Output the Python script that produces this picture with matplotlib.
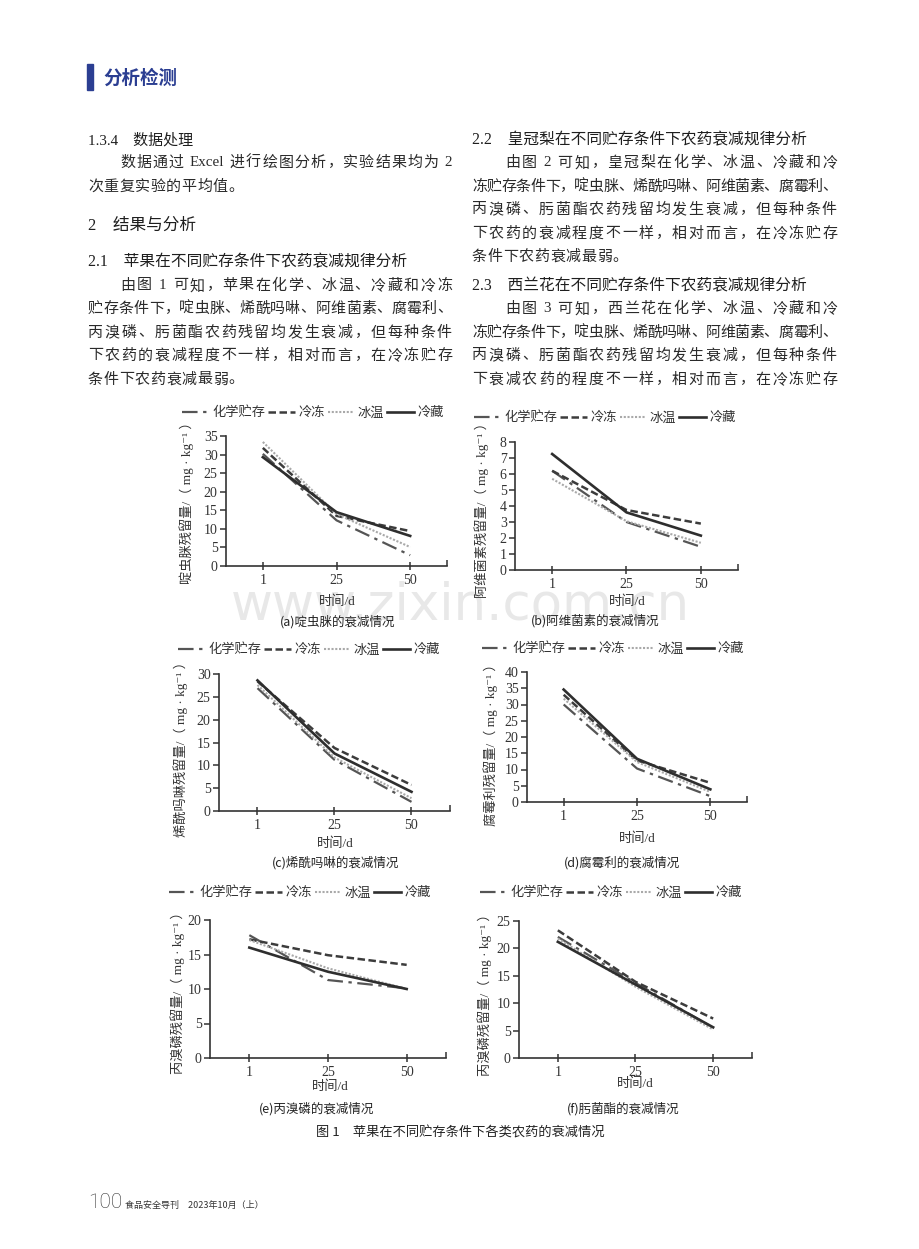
import re
import matplotlib
matplotlib.use("Agg")
import matplotlib.pyplot as plt
from matplotlib.patches import Rectangle
from matplotlib.lines import Line2D

# fonts: latin in a Times-like face, CJK falls back to Noto
CJK = ['Noto Sans CJK SC', 'DejaVu Sans']
MIX = ['Liberation Serif', 'Noto Sans CJK SC', 'DejaVu Sans']
plt.rcParams['font.family'] = MIX

# data (mg/kg), order: 化学贮存, 冷冻, 冰温, 冷藏
days = ['1', '25', '50']
storage = ['化学贮存', '冷冻', '冰温', '冷藏']

acetamiprid = [[30.2, 12.3, 2.9], [31.8, 13.5, 9.4], [33.4, 14.0, 5.1], [29.3, 14.5, 8.1]]
abamectin = [[6.2, 3.0, 1.45], [6.2, 3.75, 2.9], [5.7, 3.05, 1.7], [7.25, 3.6, 2.15]]
dimethomorph = [[26.9, 11.2, 2.0], [28.4, 13.8, 5.7], [27.6, 11.7, 2.8], [28.6, 12.6, 4.2]]
procymidone = [[30.0, 10.3, 1.8], [33.0, 12.8, 5.9], [31.8, 12.3, 3.1], [34.6, 13.3, 3.9]]
profenofos = [[17.8, 11.3, 10.1], [17.2, 14.9, 13.5], [17.1, 13.0, 10.0], [16.0, 12.5, 10.0]]
trifloxystrobin = [[22.1, 13.7, 5.5], [23.3, 13.9, 7.2], [21.8, 13.0, 5.2], [21.2, 13.4, 5.6]]

ylabels = ['啶虫脒', '阿维菌素', '烯酰吗啉', '腐霉利', '丙溴磷', '丙溴磷']
captions = ['(a)啶虫脒的衰减情况', '(b)阿维菌素的衰减情况', '(c)烯酰吗啉的衰减情况',
            '(d)腐霉利的衰减情况', '(e)丙溴磷的衰减情况', '(f)肟菌酯的衰减情况']
ymaxes = [35, 8, 30, 40, 20, 25]
ysteps = [5, 1, 5, 5, 5, 5]
panels = [acetamiprid, abamectin, dimethomorph, procymidone, profenofos, trifloxystrobin]

styles = [
    dict(color='#555555', ls=(0, (7, 2.5, 1.5, 2.5)), lw=1.6),
    dict(color='#3c3c3c', ls=(0, (3, 1.4)), lw=1.8),
    dict(color='#a9a9a9', ls=(0, (1, 0.8)), lw=1.5),
    dict(color='#2e2e2e', ls='-', lw=1.9),
]

W, H = 920, 1249
fig = plt.figure(figsize=(9.2, 12.49), dpi=100)
renderer = fig.canvas.get_renderer()


def fx(x):
    return x / W


def fy(y):
    return 1 - y / H


def txt(x, y, s, **kw):
    kw.setdefault('va', 'center')
    kw.setdefault('color', '#2a2a2a')
    return fig.text(fx(x), fy(y), s, **kw)


def justify(x0, x1, y, s, fs, fill=True):
    # lay a line out cell by cell, stretching gaps to fill x0..x1
    em = fs * 100 / 72
    tokens = re.findall(r'[A-Za-z0-9.]+| |\S', s)
    items = []
    for tok in tokens:
        if tok == ' ':
            items.append((None, em * 0.25))
        elif re.match(r'[A-Za-z0-9.]', tok):
            t = txt(0, y, tok, fontsize=fs)
            items.append((t, t.get_window_extent(renderer).width))
        else:
            items.append((txt(0, y, tok, fontsize=fs), em))
    total = sum(w for _, w in items)
    gap = ((x1 - x0) - total) / (len(items) - 1) if fill else 0.6
    x = x0
    for t, w in items:
        if t is not None:
            t.set_x(fx(x))
        x += w + gap


# pixel layout of each panel: (left, top, right, bottom), legend centre, ylabel, xlabel, caption
boxes = [(226, 436, 447, 566), (515, 442, 738, 570), (219, 674, 450, 811),
         (527, 672, 747, 802), (210, 920, 446, 1058), (519, 921, 752, 1058)]
legend_pos = [(313, 413), (605, 418), (309, 650), (613, 649), (300, 893), (611, 893)]
ylabel_pos = [(187, 500), (482, 507), (181, 746), (491, 742), (178, 990), (485, 992)]
xlabel_pos = [(337, 602), (627, 602), (335, 844), (637, 839), (330, 1087), (635, 1084)]
caption_pos = [(338, 622), (595, 621), (336, 863), (622, 863), (317, 1109), (623, 1109)]

# watermark behind everything
fig.text(fx(460), fy(605), 'www.zixin.com.cn', fontsize=37, color='#e8e8e8',
         family='DejaVu Sans', ha='center', va='center', zorder=-5)

for i, data in enumerate(panels):
    l, t, r, b = boxes[i]
    ax = fig.add_axes([fx(l), fy(b), (r - l) / W, (b - t) / H])
    ax.set_facecolor('none')
    xs = range(len(days))
    for j, name in enumerate(storage):
        ax.plot(xs, data[j], label=name, **styles[j])
    ax.set_xlim(-0.5, 2.5)
    ax.set_ylim(0, ymaxes[i])
    ax.set_xticks(list(xs))
    ax.set_xticklabels(days)
    ax.set_xticks([2.5], minor=True)
    ax.set_yticks(range(0, ymaxes[i] + 1, ysteps[i]))
    for s in ['top', 'right']:
        ax.spines[s].set_visible(False)
    for s in ['left', 'bottom']:
        ax.spines[s].set_color('#333333')
        ax.spines[s].set_linewidth(1.2)
    ax.tick_params(axis='x', which='major', direction='inout', length=6, width=1.1,
                   pad=3, labelsize=10, colors='#333333')
    ax.tick_params(axis='x', which='minor', direction='in', length=4, width=1.1, colors='#333333')
    ax.tick_params(axis='y', direction='out', length=4, width=1.1, pad=2,
                   labelsize=10, colors='#333333')

    handles = [Line2D([], [], **styles[j]) for j in range(4)]
    lx, ly = legend_pos[i]
    ax.legend(handles, storage, loc='center', bbox_to_anchor=(fx(lx), fy(ly)),
              bbox_transform=fig.transFigure, ncol=4, frameon=False,
              handlelength=2.0, handletextpad=0.25, columnspacing=0.25,
              prop={'family': MIX, 'size': 9.5}, labelcolor='#333333')

    yx, yy = ylabel_pos[i]
    txt(yx, yy, ylabels[i] + '残留量/（ mg · kg⁻¹ ）', rotation=90, ha='center',
        fontsize=9.5, color='#333333')
    xx, xy = xlabel_pos[i]
    txt(xx, xy, '时间/d', ha='center', fontsize=9.5, color='#333333')
    cx, cy = caption_pos[i]
    txt(cx, cy, captions[i], ha='center', fontsize=9, family=CJK, color='#222222')

txt(460, 1133, '图 1　苹果在不同贮存条件下各类农药的衰减情况', ha='center',
    fontsize=9.5, family=CJK, color='#222222')

# header
fig.add_artist(Rectangle((fx(87), fy(90)), 6 / W, 26 / H, color='#2b3e92',
                         transform=fig.transFigure))
txt(103, 78, '分析检测', fontsize=13.3, family=CJK, color='#2b3e92', weight='bold')

# body text: (x start, y, text, justified)
body_fs = 10.8
left_lines = [
    (120, 163, '数据通过 Excel 进行绘图分析，实验结果均为 2', True),
    (88, 187, '次重复实验的平均值。', False),
    (120, 286, '由图 1 可知，苹果在化学、冰温、冷藏和冷冻', True),
    (88, 309, '贮存条件下，啶虫脒、烯酰吗啉、阿维菌素、腐霉利、', True),
    (88, 333, '丙溴磷、肟菌酯农药残留均发生衰减，但每种条件', True),
    (88, 356, '下农药的衰减程度不一样，相对而言，在冷冻贮存', True),
    (88, 380, '条件下农药衰减最弱。', False),
]
right_lines = [
    (505, 163, '由图 2 可知，皇冠梨在化学、冰温、冷藏和冷', True),
    (472, 187, '冻贮存条件下，啶虫脒、烯酰吗啉、阿维菌素、腐霉利、', True),
    (472, 210, '丙溴磷、肟菌酯农药残留均发生衰减，但每种条件', True),
    (472, 234, '下农药的衰减程度不一样，相对而言，在冷冻贮存', True),
    (472, 257, '条件下农药衰减最弱。', False),
    (505, 309, '由图 3 可知，西兰花在化学、冰温、冷藏和冷', True),
    (472, 333, '冻贮存条件下，啶虫脒、烯酰吗啉、阿维菌素、腐霉利、', True),
    (472, 356, '丙溴磷、肟菌酯农药残留均发生衰减，但每种条件', True),
    (472, 380, '下衰减农药的程度不一样，相对而言，在冷冻贮存', True),
]
for x, y, s, full in left_lines:
    justify(x, 452, y, s, body_fs, full)
for x, y, s, full in right_lines:
    justify(x, 837, y, s, body_fs, full)

headings = [
    (88, 140, '1.3.4　数据处理', 10.8),
    (88, 226, '2　结果与分析', 12),
    (88, 262, '2.1　苹果在不同贮存条件下农药衰减规律分析', 11.3),
    (472, 140, '2.2　皇冠梨在不同贮存条件下农药衰减规律分析', 11.3),
    (472, 286, '2.3　西兰花在不同贮存条件下农药衰减规律分析', 11.3),
]
for x, y, s, fs in headings:
    txt(x, y, s, fontsize=fs, color='#1e1e1e')

# footer
txt(88, 1203, '100', fontsize=15, family=['Roboto', 'DejaVu Sans'], weight='light',
    color='#333333')
txt(125, 1205, '食品安全导刊　2023年10月（上）', fontsize=6.5, family=CJK, color='#333333')

fig.savefig('out.png', dpi=100)
